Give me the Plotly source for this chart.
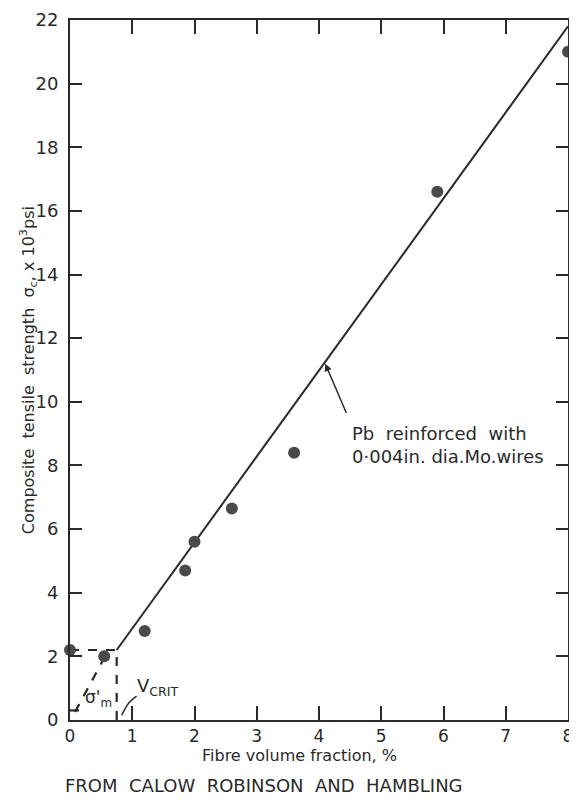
import plotly.graph_objects as go

# Data
fibre_vf = [0.0, 0.55, 1.2, 1.85, 2.0, 2.6, 3.6, 5.9, 8.0]
strength = [2.2, 2.0, 2.8, 4.7, 5.6, 6.65, 8.4, 16.6, 21.0]

fit_x = [0.75, 8.0]
fit_y = [2.2, 21.8]

flat_x = [0.0, 0.75]
flat_y = [2.2, 2.2]

vcrit_x = [0.75, 0.75]
vcrit_y = [0.0, 2.2]

matrix_x = [0.08, 0.55]
matrix_y = [0.25, 1.95]

sigma_m_x = [0.0, 0.28]
sigma_m_y = [0.3, 0.3]

leader_x = [0.83, 0.95, 1.07]
leader_y = [0.15, 0.55, 0.75]

x_ticks = [0, 1, 2, 3, 4, 5, 6, 7, 8]
y_ticks = [0, 2, 4, 6, 8, 10, 12, 14, 16, 18, 20, 22]

FONT = "DejaVu Sans"
INK = "#2a2a2a"

fig = go.Figure()

# dashed construction lines
for xs, ys in [(flat_x, flat_y), (vcrit_x, vcrit_y), (matrix_x, matrix_y), (sigma_m_x, sigma_m_y)]:
    fig.add_trace(go.Scatter(x=xs, y=ys, mode="lines",
                             line=dict(color=INK, width=2.2, dash="dash"),
                             showlegend=False, hoverinfo="skip", cliponaxis=False))

# fitted line
fig.add_trace(go.Scatter(x=fit_x, y=fit_y, mode="lines",
                         line=dict(color=INK, width=2),
                         showlegend=False, cliponaxis=False))

# data points
fig.add_trace(go.Scatter(x=fibre_vf, y=strength, mode="markers",
                         marker=dict(color="#4a4a4a", size=12, line=dict(width=0)),
                         showlegend=False, cliponaxis=False))

# V_crit leader
fig.add_trace(go.Scatter(x=leader_x, y=leader_y, mode="lines",
                         line=dict(color=INK, width=1.5, shape="spline"),
                         showlegend=False, hoverinfo="skip"))

fig.add_annotation(x=0.45, y=0.68, text="σ'<sub>m</sub>", showarrow=False,
                   font=dict(family=FONT, size=17, color=INK))
fig.add_annotation(x=1.05, y=1.05, text="V<sub>CRIT</sub>", showarrow=False,
                   xanchor="left", font=dict(family=FONT, size=18, color=INK))

# annotation with arrow to line
fig.add_annotation(x=4.1, y=11.2, ax=4.45, ay=9.6, axref="x", ayref="y",
                   text="", showarrow=True, arrowhead=2, arrowsize=1,
                   arrowwidth=1.5, arrowcolor=INK)
fig.add_annotation(x=4.5, y=8.65, text="Pb  reinforced  with<br>0·004in. dia.Mo.wires",
                   showarrow=False, xanchor="left", align="left",
                   font=dict(family=FONT, size=18, color=INK))

# axis titles and source line as paper annotations
fig.add_annotation(x=-0.084, y=0.5, xref="paper", yref="paper", textangle=-90,
                   text="Composite  tensile  strength  σ<sub>c</sub>, x 10<sup>3</sup>psi",
                   showarrow=False, xanchor="center", yanchor="middle",
                   font=dict(family=FONT, size=16, color=INK))
fig.add_annotation(x=0.46, y=-0.05, xref="paper", yref="paper",
                   text="Fibre volume fraction, %", showarrow=False,
                   yanchor="middle", font=dict(family=FONT, size=16, color=INK))
fig.add_annotation(x=0.39, y=-0.093, xref="paper", yref="paper",
                   text="FROM  CALOW  ROBINSON  AND  HAMBLING", showarrow=False,
                   yanchor="middle", font=dict(family=FONT, size=18, color=INK))

fig.update_xaxes(range=[0, 8], tickvals=x_ticks, ticktext=[str(v) for v in x_ticks],
                 ticks="inside", ticklen=14, tickwidth=1.5, tickcolor=INK,
                 showline=True, linecolor=INK, linewidth=2, mirror="ticks",
                 showgrid=False, zeroline=False, automargin=False,
                 tickfont=dict(family=FONT, size=17, color=INK))
fig.update_yaxes(range=[0, 22], tickvals=y_ticks, ticktext=[str(v) for v in y_ticks],
                 ticks="inside", ticklen=12, tickwidth=1.5, tickcolor=INK,
                 showline=True, linecolor=INK, linewidth=2, mirror="ticks",
                 showgrid=False, zeroline=False, ticklabelstandoff=6, automargin=False,
                 tickfont=dict(family=FONT, size=18, color=INK))

# the page body adds an 8px margin, so the figure is sized to fill the rest of the window
fig.update_layout(width=569, height=792, margin=dict(l=62, r=9, t=12, b=80),
                  plot_bgcolor="white", paper_bgcolor="white")

fig.write_html("out.html")
